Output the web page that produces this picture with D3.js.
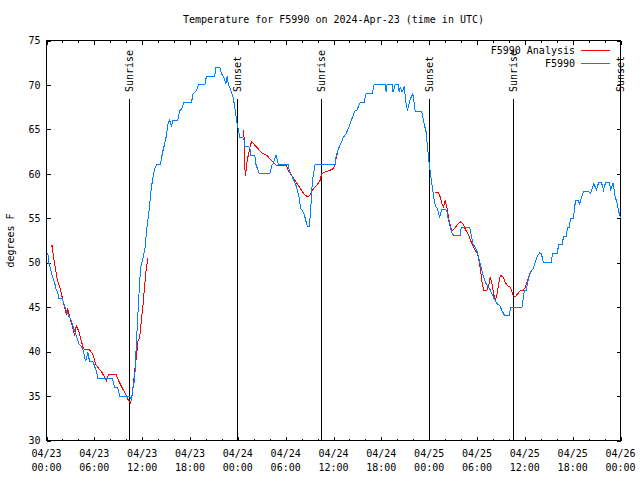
<!DOCTYPE html>
<html>
<head>
<meta charset="utf-8">
<script src="https://cdn.jsdelivr.net/npm/d3@7"></script>
<style>
  html, body { margin: 0; padding: 0; background: #fff; }
  svg { display: block; }
  text { font-family: "DejaVu Sans Mono", "Liberation Mono", monospace; font-size: 10px; fill: #000; }
</style>
</head>
<body>
<svg id="chart" width="640" height="480"></svg>
<script>
// ---------------- data ----------------
const titleText = "Temperature for F5990 on 2024-Apr-23 (time in UTC)";
const yLabelText = "degrees F";
const seriesNames = ["F5990 Analysis", "F5990"];
const seriesColors = ["#ff0000", "#0080ff"];
const startTime = "2024-04-23T00:00:00Z";
const endTime = "2024-04-26T00:00:00Z";
const yTicks = [30, 35, 40, 45, 50, 55, 60, 65, 70, 75];

// observations: hours since start, temperature F
const obsHours = [0.16,0.29,0.44,0.59,0.75,1.0,1.22,1.38,1.55,1.97,2.14,2.48,2.8,3.1,3.3,3.52,3.81,4.06,4.36,4.56,4.9,5.19,5.4,5.82,6.25,6.45,8.26,8.55,8.92,9.17,10.43,10.64,10.84,11.06,11.27,11.56,11.81,12.1,12.35,12.44,12.6,12.82,12.94,13.16,13.36,13.57,13.78,14.29,14.41,14.61,14.83,15.04,15.24,15.46,15.67,15.83,16.46,16.71,16.96,17.22,18.18,18.38,18.81,19.06,19.85,20.07,21.11,21.24,21.74,21.95,22.24,22.49,22.66,22.83,23.0,23.41,23.62,23.84,24.0,24.25,24.75,24.88,25.51,25.6,26.14,26.26,26.68,28.02,28.24,28.4,28.78,29.06,30.32,30.45,30.66,31.04,31.38,31.67,31.88,32.21,32.42,32.71,32.96,33.14,33.26,33.39,33.68,36.19,36.32,36.6,37.03,37.23,37.57,37.86,38.08,38.41,38.7,38.95,39.33,39.83,40.08,40.84,41.09,42.47,42.6,42.72,43.35,43.47,43.73,44.1,44.23,44.36,44.61,44.86,45.11,45.28,45.61,45.95,46.12,46.24,47.08,47.21,47.37,47.62,47.79,47.96,48.13,48.34,48.54,48.67,48.88,49.04,49.3,49.47,49.6,50.1,50.23,50.43,50.64,50.85,51.05,51.9,52.02,53.07,53.24,53.49,53.78,54.07,54.32,54.5,54.75,55.04,55.33,55.58,55.88,56.17,56.51,56.84,57.14,57.43,58.09,58.18,59.65,59.78,59.94,60.19,60.36,60.69,61.03,61.32,61.61,61.86,62.08,62.33,63.33,63.46,64.09,64.21,64.71,64.84,65.22,65.35,65.6,65.72,66.1,66.35,66.72,66.85,66.98,67.35,67.98,68.23,68.65,68.99,69.24,69.62,69.87,70.12,70.62,70.75,71.09,71.26,71.59,71.8,72.0];
const obsTemps = [51.1,50,49.5,49,48.4,47.8,47,46.7,46,46,45.5,44.6,44,43.5,42.9,42.3,41.6,40.9,40.6,40.3,38.9,39.9,38.9,38.9,37.8,37,37,36,36,35,35,34.6,35.9,36.9,40.8,45.9,49.5,50.5,51.6,52.5,54,55.5,56.6,58.5,59.6,60.6,61,61,61.7,62.6,63.4,64.3,65.6,66.1,65.3,66,66,67.1,67.3,68,68,69,69.4,70,70,71,71,72,72,71.25,70.9,70.1,71,70,69.75,68.6,67.5,66,65.25,64.1,64,63.1,63,62.1,62,61.1,60,60,60.9,61.1,62.1,61.1,61,60.4,60,59.25,58.5,57.4,56.1,55.7,55.1,54.1,54.1,55.9,58.1,59.4,61,61,61.9,62.8,63.6,64.1,64.5,65.1,65.6,66.45,67.1,67.2,68,68,69,69,70,70,69.2,70,70,69.2,70,70,69.2,69.75,69.2,69.75,67.9,67.1,68.4,69,67.9,67.05,67,66.4,65.6,64.7,63,61.5,60.2,58.9,57.6,56.8,56.25,56.06,55.1,55.7,56,56,55.7,54.75,54,53.4,53.1,53.1,54,54,53.25,52.1,51.75,51.1,50.1,49.5,48.6,47.8,47.4,47.1,46.5,45.9,45.4,45.2,44.6,44.1,44.1,45,45,45.9,46.9,46.9,47.8,48.9,49.3,50.1,50.8,51.1,51,50,50,51,51,52,52,53,53,54,54,55,55,57,57,56.5,57,58,58,57.8,58.9,58.2,59,59,58.2,59,59,58.2,59,57.7,56.6,55.7,55.05];

// analysis: hours since start, temperature F (null = gap)
const anlHours = [0.59,0.69,0.88,1.09,1.29,1.51,1.72,1.97,2.22,2.48,2.68,2.89,3.1,3.3,3.52,3.73,4.06,4.36,4.65,5.4,5.82,6.16,6.45,6.87,7.29,7.5,7.7,7.83,8.76,8.96,9.39,9.68,9.93,10.22,10.52,10.68,10.84,11.06,11.27,11.47,11.69,11.9,12.1,12.31,12.53,12.73,
  18.0,
  24.59,24.75,24.84,24.92,25.04,25.17,25.35,25.51,25.72,25.92,26.35,26.77,27.18,27.61,28.02,28.44,28.86,30.12,30.32,30.75,31.16,31.58,32.01,32.42,32.84,33.05,33.46,33.89,34.31,34.52,34.93,35.56,35.98,36.19,36.6,37.03,
  42.0,
  48.76,49.17,49.38,49.6,49.8,50.01,50.23,50.43,50.64,50.85,51.14,51.48,51.9,52.23,52.52,52.94,53.37,53.78,54.07,54.32,54.5,54.63,54.83,55.26,55.46,55.67,55.88,56.08,56.3,56.51,56.71,56.93,57.26,57.55,57.83,58.18,58.39,58.56,58.81,59.1,59.44,59.78,60.07,60.36,60.69];
const anlTemps = [51.8,52,50.6,49.5,48.4,47.6,47.1,46.1,45.2,44.2,44.8,44,43.3,42.7,41.8,42.9,42.3,41.2,40.3,40.2,39.7,38.6,38.2,37.8,37.1,36.7,37.2,37.4,37.4,36.9,36.1,35.6,35.2,34.6,34.2,34.6,35.9,37.8,39.3,41.2,41.6,43.5,45.2,47.4,49.5,50.5,
  null,
  64.9,64.9,62.25,59.8,60.4,61.5,62.25,63,63.6,63.45,63,62.6,62.25,62.1,61.7,61.3,60.9,60.9,60.4,59.8,59.25,58.7,58.1,57.6,57.4,57.6,58.3,58.7,59.25,60,60.2,60.4,60.6,61.1,62.8,63.6,
  null,
  57.9,57.9,57.4,56.6,56.25,57,56.25,55.1,54.2,53.6,53.8,54.2,54.6,54.4,53.8,53.1,52.1,51.4,51,49.9,48.75,47.8,46.9,46.9,47.4,48.4,47.6,46.5,45.75,46.5,47.6,48.6,48.4,47.8,47.4,47.25,46.7,46.3,46.2,46.5,46.9,46.9,47.25,48,48.9];

// sunrise / sunset markers
const eventTimes = ["2024-04-23T10:20:00Z","2024-04-23T23:55:00Z","2024-04-24T10:26:00Z","2024-04-24T23:55:00Z","2024-04-25T10:28:00Z","2024-04-25T23:56:00Z"];
const eventLabels = ["Sunrise","Sunset","Sunrise","Sunset","Sunrise","Sunset"];

// ---------------- drawing ----------------
(function () {
const svg = d3.select("#chart");
const pLeft = 46.5, pRight = 620.5, pTop = 40.5, pBottom = 440.5;
const t0 = new Date(startTime), t1 = new Date(endTime);
const toDate = h => new Date(t0.getTime() + h * 3600e3);

const x = d3.scaleUtc().domain([t0, t1]).range([pLeft, pRight]);
const y = d3.scaleLinear().domain([30, 75]).range([pBottom, pTop]);

const obs = obsHours.map((h, i) => ({ t: toDate(h), v: obsTemps[i] }));
const anl = anlHours.map((h, i) => ({ t: toDate(h), v: anlTemps[i] }));

// title
svg.append("text").attr("x", (pLeft + pRight) / 2).attr("y", 23)
  .attr("text-anchor", "middle").text(titleText);

// y label
svg.append("text").attr("transform", `translate(14,${(pTop + pBottom) / 2}) rotate(-90)`)
  .attr("text-anchor", "middle").text(yLabelText);

// axes
const g = svg.append("g").attr("shape-rendering", "crispEdges");
const major = d3.utcHour.every(6), minor = d3.utcHour.every(2);

function styleAxis(sel) {
  sel.select(".domain").remove();
  sel.selectAll("line").attr("stroke", "#000");
  sel.selectAll("text").style("font-family", '"DejaVu Sans Mono", monospace').style("font-size", "10px");
}

g.append("g").attr("transform", `translate(0,${pBottom})`)
  .call(d3.axisBottom(x).ticks(minor).tickSize(-2).tickFormat("")).call(styleAxis);
g.append("g").attr("transform", `translate(0,${pBottom})`)
  .call(d3.axisBottom(x).ticks(major).tickSize(-4).tickFormat("")).call(styleAxis);
g.append("g").attr("transform", `translate(0,${pTop})`)
  .call(d3.axisTop(x).ticks(minor).tickSize(-2).tickFormat("")).call(styleAxis);
g.append("g").attr("transform", `translate(0,${pTop})`)
  .call(d3.axisTop(x).ticks(major).tickSize(-4).tickFormat("")).call(styleAxis);
g.append("g").attr("transform", `translate(${pLeft},0)`)
  .call(d3.axisLeft(y).tickValues(yTicks).tickSize(-4).tickPadding(6).tickFormat(d3.format("d"))).call(styleAxis);
g.append("g").attr("transform", `translate(${pRight},0)`)
  .call(d3.axisRight(y).tickValues(yTicks).tickSize(-4).tickFormat("")).call(styleAxis);

// x tick labels (two lines)
const fmtDate = d3.utcFormat("%m/%d"), fmtTime = d3.utcFormat("%H:%M");
const xl = svg.append("g").selectAll("text").data(x.ticks(major)).join("text")
  .attr("text-anchor", "middle");
xl.append("tspan").attr("x", d => x(d)).attr("y", 457).text(d => fmtDate(d));
xl.append("tspan").attr("x", d => x(d)).attr("y", 471).text(d => fmtTime(d));

// border
g.append("rect").attr("x", pLeft).attr("y", pTop).attr("width", pRight - pLeft).attr("height", pBottom - pTop)
  .attr("fill", "none").attr("stroke", "#000");

// sunrise / sunset lines
const ev = eventTimes.map((s, i) => ({ t: new Date(s), label: eventLabels[i] }));
g.append("g").selectAll("line").data(ev).join("line")
  .attr("x1", d => Math.round(x(d.t)) + 0.5).attr("x2", d => Math.round(x(d.t)) + 0.5)
  .attr("y1", 99).attr("y2", pBottom).attr("stroke", "#000");
svg.append("g").selectAll("text").data(ev).join("text")
  .attr("transform", d => `translate(${Math.round(x(d.t)) + 0.5},92) rotate(-90)`)
  .attr("dy", "0.35em").attr("text-anchor", "start").text(d => d.label);

// data lines
const line = d3.line().defined(d => d.v != null).x(d => x(d.t)).y(d => y(d.v));
g.append("path").datum(anl).attr("d", line).attr("fill", "none")
  .attr("stroke", seriesColors[0]).attr("stroke-width", 1);
g.append("path").datum(obs).attr("d", line).attr("fill", "none")
  .attr("stroke", seriesColors[1]).attr("stroke-width", 1);

// legend
const legend = svg.append("g");
seriesNames.forEach((name, i) => {
  const cy = 50 + i * 13;
  legend.append("text").attr("x", 575).attr("y", cy + 3.5).attr("text-anchor", "end").text(name);
  legend.append("line").attr("x1", 581).attr("x2", 610).attr("y1", cy + 0.5).attr("y2", cy + 0.5)
    .attr("stroke", seriesColors[i]).attr("shape-rendering", "crispEdges");
});
})();
</script>
</body>
</html>
